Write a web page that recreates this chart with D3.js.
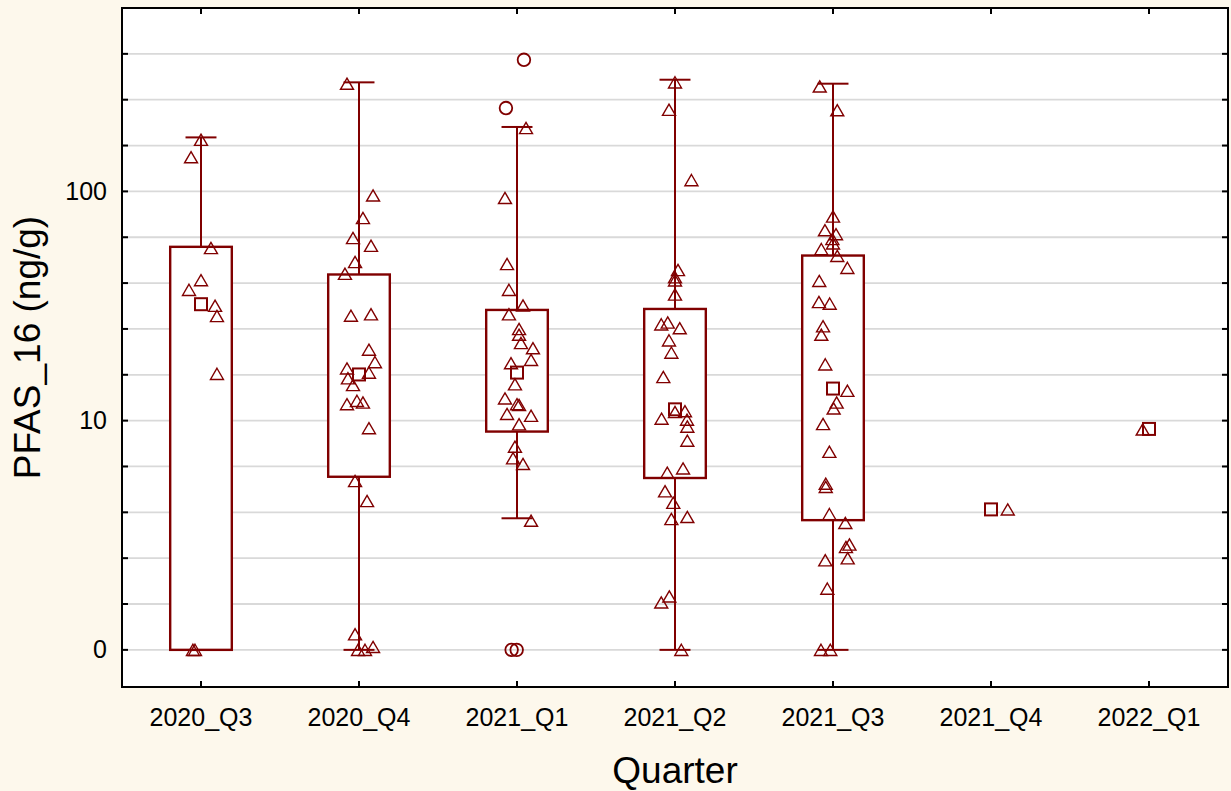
<!DOCTYPE html>
<html>
<head>
<meta charset="utf-8">
<script src="https://cdn.jsdelivr.net/npm/d3@7"></script>
<style>
  html, body { margin: 0; padding: 0; background: #fdf8ec; }
  svg { display: block; font-family: "Liberation Sans", Arial, sans-serif; }
</style>
</head>
<body>
<svg id="chart" width="1231" height="791"></svg>
<script>
// ---- data (PFAS_16, ng/g) ----
const quarters = ["2020_Q3", "2020_Q4", "2021_Q1", "2021_Q2", "2021_Q3", "2021_Q4", "2022_Q1"];
const yTicks = [0, 10, 100];

// box summary per quarter; null where the quarter has a single sample
const boxLow  = [0,    0,    3.75, 0,    0,    null, null];
const boxQ1   = [0,    5.69, 8.96, 5.62, 3.68, null, null];
const boxMid  = [32.2, 15.9, 16.2, 11.2, 13.8, 4.1,  9.2];
const boxQ3   = [57.3, 43.4, 30.4, 30.7, 52.5, null, null];
const boxHigh = [172,  299,  191,  307,  295,  null, null];

// individual samples: [value, horizontal jitter as a fraction of the category width]
const s2020Q3 = [[168,0],[141,-0.063],[56.6,0.063],[41,0],[37.2,-0.076],[31.7,0.089],[28.6,0.101],
  [16.0,0.101],[0,-0.051],[0,-0.038]];
const s2020Q4 = [[295,-0.076],[96,0.089],[76.5,0.025],[62.6,-0.038],[57.9,0.076],[49.2,-0.025],
  [43.7,-0.089],[28.7,-0.051],[29.1,0.076],[20.4,0.063],[18.0,0.101],[16.9,-0.076],[16.2,0.063],
  [15.3,-0.070],[14.3,-0.038],[11.8,-0.076],[12.2,-0.013],[12.0,0.025],[9.27,0.063],[5.45,-0.025],
  [4.46,0.051],[1.17,-0.025],[1.03,0.089],[0,-0.006],[0,0.038]];
const s2021Q1 = [[189,0.057],[93.6,-0.076],[48.2,-0.063],[37.2,-0.051],[31.8,0.038],[29.1,-0.051],
  [25.1,0.013],[23.7,0.013],[21.8,0.025],[20.7,0.101],[18.4,0.089],[17.8,-0.038],[14.4,-0.013],
  [12.5,-0.076],[11.8,0],[11.7,0.013],[10.7,-0.063],[10.5,0.089],[9.64,0.013],[7.70,-0.013],
  [6.85,-0.025],[6.47,0.038],[3.66,0.089]];
const s2021Q2 = [[299,0],[227,-0.038],[112,0.104],[45.4,0.019],[42.2,0],[40.9,0],[35.5,0],
  [26.8,-0.046],[26.3,-0.087],[25.3,0.030],[22.4,-0.038],[19.8,-0.023],[15.5,-0.074],[11.0,0.063],
  [10.9,0],[10.2,-0.085],[10.1,0.076],[9.42,0.078],[8.18,0.078],[6.19,0.051],[5.93,-0.049],
  [4.92,-0.063],[4.38,-0.011],[3.80,0.078],[3.72,-0.023],[1.71,-0.036],[1.61,-0.087],[0,0.040]];
const s2021Q3 = [[287,-0.084],[226,0.027],[77.7,0],[67.7,-0.051],[65.1,0.019],[62.0,-0.004],
  [59.3,0],[56.0,-0.074],[52.3,0.027],[46.4,0.091],[40.7,-0.087],[32.9,-0.089],[32.4,-0.021],
  [25.8,-0.063],[23.7,-0.074],[17.6,-0.049],[13.5,0.091],[12.0,0.023],[11.3,0.004],[9.66,-0.063],
  [7.31,-0.023],[5.31,-0.046],[5.14,-0.046],[3.91,-0.023],[3.58,0.078],[2.88,0.104],[2.81,0.082],
  [2.51,0.093],[2.46,-0.049],[1.85,-0.036],[0,-0.076],[0,-0.017]];
const s2021Q4 = [[4.1,0.106]];
const s2022Q1 = [[9.15,-0.040]];
const samples = [s2020Q3, s2020Q4, s2021Q1, s2021Q2, s2021Q3, s2021Q4, s2022Q1];

// outliers (2021_Q1 only)
const outliers = [["2021_Q1", 375, 0.044], ["2021_Q1", 231, -0.070], ["2021_Q1", 0, -0.034], ["2021_Q1", 0, -0.002]];

// ---- layout ----
const W = 1231, H = 791;
const L = 122, T = 8, R = 1228, B = 687;
const ink = "#800000";
const font = "Liberation Sans, Arial, sans-serif";

const svg = d3.select("#chart");
svg.append("rect").attr("width", W).attr("height", H).attr("fill", "#fdf8ec");
svg.append("rect").attr("x", L).attr("y", T).attr("width", R - L).attr("height", B - T).attr("fill", "#ffffff");

const x = d3.scaleBand().domain(quarters).range([L, R]).padding(0);
const bw = x.bandwidth();
const cx = q => x(q) + bw / 2;
// vertical axis is log10 of the concentration; zero values sit on the "0" line
const y = d3.scaleLinear().domain([-0.162, 2.8]).range([B, T]);
const lg = v => (v > 0 ? Math.log10(v) : 0);
const pos = v => y(lg(v));

// grid every 0.2 decade
const gridSteps = d3.range(0, 14).map(k => k * 0.2);
svg.append("g").selectAll("line").data(gridSteps).join("line")
  .attr("x1", L).attr("x2", R)
  .attr("y1", d => y(d)).attr("y2", d => y(d))
  .attr("stroke", "#d9d9d9").attr("stroke-width", 1.8);

// boxes, whiskers and caps
const boxW = bw * 0.39, capW = bw * 0.196;
const g = svg.append("g").attr("stroke", ink).attr("fill", "none");
quarters.forEach((q, i) => {
  if (boxQ3[i] === null) return;
  const c = cx(q);
  g.append("line").attr("x1", c).attr("x2", c).attr("y1", pos(boxHigh[i])).attr("y2", pos(boxQ3[i])).attr("stroke-width", 2);
  g.append("line").attr("x1", c).attr("x2", c).attr("y1", pos(boxQ1[i])).attr("y2", pos(boxLow[i])).attr("stroke-width", 2);
  g.append("line").attr("x1", c - capW / 2).attr("x2", c + capW / 2).attr("y1", pos(boxHigh[i])).attr("y2", pos(boxHigh[i])).attr("stroke-width", 2);
  g.append("line").attr("x1", c - capW / 2).attr("x2", c + capW / 2).attr("y1", pos(boxLow[i])).attr("y2", pos(boxLow[i])).attr("stroke-width", 2);
  g.append("rect")
    .attr("x", c - boxW / 2).attr("width", boxW)
    .attr("y", pos(boxQ3[i])).attr("height", Math.max(0, pos(boxQ1[i]) - pos(boxQ3[i])))
    .attr("fill", "#ffffff").attr("stroke-width", 2.4);
});

// sample triangles
const tri = "M0,-6L6.5,5.2L-6.5,5.2Z";
const pts = [];
samples.forEach((arr, i) => arr.forEach(([v, j]) => pts.push({ q: quarters[i], v, j })));
svg.append("g").selectAll("path").data(pts).join("path")
  .attr("d", tri)
  .attr("transform", d => `translate(${cx(d.q) + d.j * bw},${pos(d.v) + 0.4})`)
  .attr("fill", "none").attr("stroke", ink).attr("stroke-width", 1.4);

// median squares
svg.append("g").selectAll("rect").data(quarters).join("rect")
  .attr("x", q => cx(q) - 6).attr("width", 12)
  .attr("y", (q, i) => pos(boxMid[i]) - 6).attr("height", 12)
  .attr("fill", "none").attr("stroke", ink).attr("stroke-width", 2);

// outlier circles
svg.append("g").selectAll("circle").data(outliers).join("circle")
  .attr("cx", d => cx(d[0]) + d[2] * bw).attr("cy", d => pos(d[1]))
  .attr("r", 6.3).attr("fill", "none").attr("stroke", ink).attr("stroke-width", 1.8);

// frame and inward tick marks
const frame = svg.append("g").attr("stroke", "#000").attr("stroke-width", 2);
frame.append("rect").attr("x", L).attr("y", T).attr("width", R - L).attr("height", B - T).attr("fill", "none");
gridSteps.forEach(s => {
  frame.append("line").attr("x1", L).attr("x2", L + 6).attr("y1", y(s)).attr("y2", y(s));
  frame.append("line").attr("x1", R - 6).attr("x2", R).attr("y1", y(s)).attr("y2", y(s));
});
quarters.forEach(q => {
  frame.append("line").attr("x1", cx(q)).attr("x2", cx(q)).attr("y1", B).attr("y2", B - 6);
  frame.append("line").attr("x1", cx(q)).attr("x2", cx(q)).attr("y1", T).attr("y2", T + 6);
});

// axes (labels only; tick marks drawn above)
const yAxis = d3.axisLeft(y)
  .tickValues(yTicks.map(lg))
  .tickFormat((d, i) => String(yTicks[i]))
  .tickSize(0).tickPadding(15);
const ya = svg.append("g").attr("transform", `translate(${L},0)`).call(yAxis);
ya.select(".domain").remove();
ya.selectAll("text").attr("font-size", 25).attr("fill", "#000").attr("font-family", font);

const xAxis = d3.axisBottom(x).tickSize(0).tickPadding(21);
const xa = svg.append("g").attr("transform", `translate(0,${B})`).call(xAxis);
xa.select(".domain").remove();
xa.selectAll("text").attr("font-size", 25).attr("fill", "#000").attr("font-family", font);

// titles
svg.append("text").attr("x", (L + R) / 2).attr("y", 783)
  .attr("text-anchor", "middle").attr("font-size", 37).attr("fill", "#000")
  .text("Quarter");
svg.append("text").attr("transform", `translate(40,${(T + B) / 2}) rotate(-90)`)
  .attr("text-anchor", "middle").attr("font-size", 37).attr("fill", "#000")
  .text("PFAS_16 (ng/g)");
</script>
</body>
</html>
